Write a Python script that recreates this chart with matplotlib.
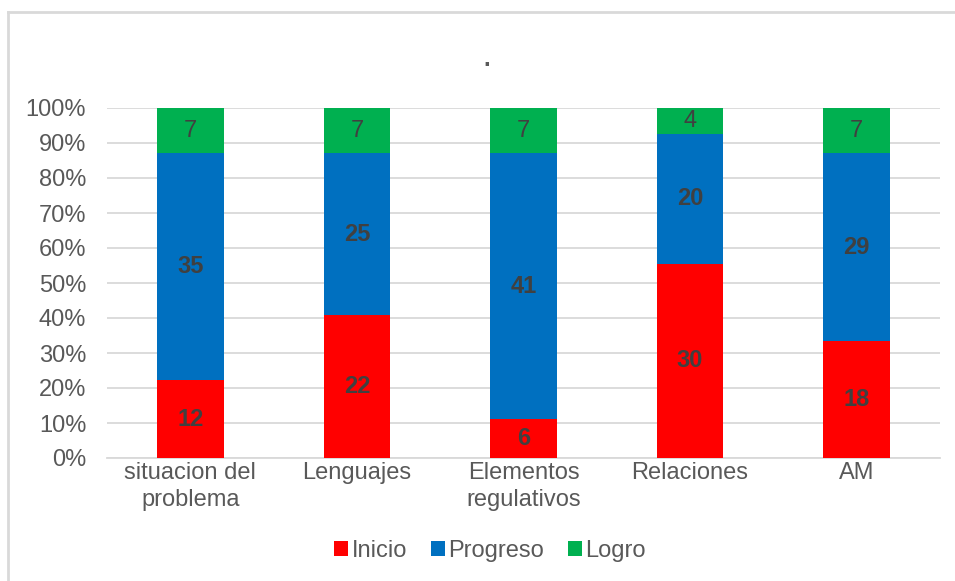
import matplotlib
matplotlib.use("Agg")
import matplotlib.pyplot as plt
from matplotlib.lines import Line2D
import numpy as np

categories = ["situacion del\nproblema", "Lenguajes", "Elementos\nregulativos", "Relaciones", "AM"]
inicio = [12, 22, 6, 30, 18]
progreso = [35, 25, 41, 20, 29]
logro = [7, 7, 7, 4, 7]
series_names = ["Inicio", "Progreso", "Logro"]
colors = ["#FF0000", "#0070C0", "#00B050"]
label_weights = ["bold", "bold", "normal"]
yticks = [0, 10, 20, 30, 40, 50, 60, 70, 80, 90, 100]

plt.rcParams['font.family'] = ['Liberation Sans', 'DejaVu Sans']

fig = plt.figure(figsize=(9.55, 5.81), dpi=100)
ax = fig.add_axes([107/955, 1 - 458/581, (940 - 107)/955, (458 - 108)/581])

data = np.array([inicio, progreso, logro], dtype=float)
totals = data.sum(axis=0)
pct = data / totals * 100
x = np.arange(len(categories))
bottom = np.zeros(len(categories))
for i, name in enumerate(series_names):
    bars = ax.bar(x, pct[i], 0.4, bottom=bottom, color=colors[i], label=name, zorder=3)
    for j, b in enumerate(bars):
        ax.text(b.get_x() + b.get_width()/2, bottom[j] + pct[i][j]/2, str(int(data[i][j])),
                ha='center', va='center', fontsize=17, fontweight=label_weights[i],
                color='#404040', zorder=4)
    bottom += pct[i]

ax.set_ylim(0, 100)
ax.set_xlim(-0.5, len(categories) - 0.5)
ax.set_yticks(yticks)
ax.set_yticklabels([f"{t}%" for t in yticks])
ax.set_xticks(x)
ax.set_xticklabels(categories, linespacing=1.3)
ax.yaxis.grid(True, color='#D9D9D9', linewidth=1.3, zorder=0)
ax.set_axisbelow(True)
for s in ['left', 'right', 'top']:
    ax.spines[s].set_visible(False)
ax.spines['bottom'].set_color('#D9D9D9')
ax.spines['bottom'].set_linewidth(1.3)
ax.tick_params(axis='both', length=0, labelsize=17, colors='#595959')
ax.tick_params(axis='y', pad=15)
ax.tick_params(axis='x', pad=3)

fig.text(487/955, 1 - 60/581, ".", ha='center', va='center', fontsize=17, color='#595959', fontweight='bold')

leg = fig.legend(loc='center', bbox_to_anchor=(490/955, 1 - 551/581), ncol=3, frameon=False,
                 fontsize=17, handlelength=0.6, handleheight=0.6, handletextpad=0.15, columnspacing=1.0)
for t in leg.get_texts():
    t.set_color('#595959')

fig.add_artist(Line2D([8/955, 8/955], [0, 1 - 12/581], transform=fig.transFigure, color='#D9D9D9', lw=2))
fig.add_artist(Line2D([8/955, 1], [1 - 12/581, 1 - 12/581], transform=fig.transFigure, color='#D9D9D9', lw=2))

fig.savefig("out.png", dpi=100)
